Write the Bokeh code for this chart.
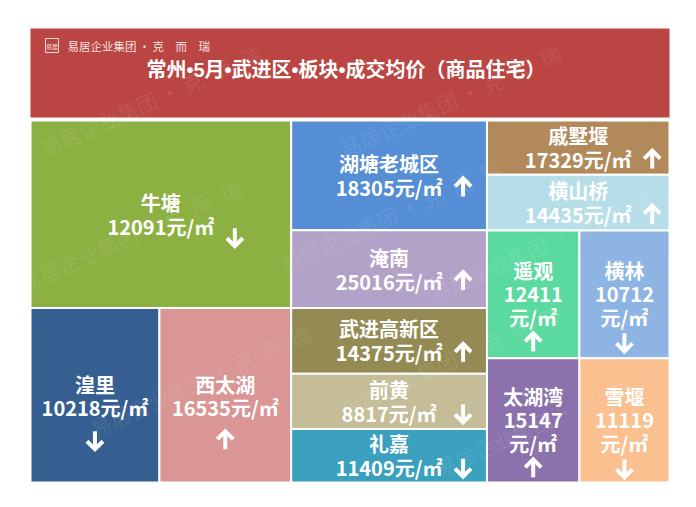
from bokeh.plotting import figure
from bokeh.models import Range1d, ColumnDataSource
from bokeh.core.properties import value
from bokeh.embed import file_html
from bokeh.resources import INLINE

# ---------------- data ----------------
title_text = "常州•5月•武进区•板块•成交均价（商品住宅）"
brand_text = "易居企业集团\u2009·\u2009克\u3000而\u3000瑞"
watermark_text = "易居企业集团\u2009·\u2009克\u2002而\u2002瑞"

names = ["牛塘", "湟里", "西太湖", "湖塘老城区", "淹南", "武进高新区", "前黄",
         "礼嘉", "戚墅堰", "横山桥", "遥观", "横林", "太湖湾", "雪堰"]
prices = [12091, 10218, 16535, 18305, 25016, 14375, 8817,
          11409, 17329, 14435, 12411, 10712, 15147, 11119]
trend = ["down", "down", "up", "up", "up", "up", "down",
         "down", "up", "up", "up", "down", "up", "down"]
weights = [489, 225, 230, 215, 152, 129, 108, 105, 99, 102, 118, 115, 115, 112]
colors = ["#8DB043", "#355E91", "#D99694", "#558ED5", "#B3A2C7", "#948A54", "#C4BD97",
          "#3AA0BE", "#B2895A", "#B7DEE8", "#5BDA9F", "#8EB4E3", "#8C72AC", "#FAC090"]
unit = "元/㎡"

# treemap nesting (h = side by side, v = stacked)
tree = ("h", [("v", [0, ("h", [1, 2])]),
              ("v", [3, 4, 5, 6, 7]),
              ("v", [8, 9, ("h", [10, 11]), ("h", [12, 13])])])

# ---------------- layout ----------------
W, H = 680, 491
p = figure(width=W, height=H, output_backend="svg", toolbar_location=None,
           x_range=Range1d(0, W), y_range=Range1d(H, 0),
           min_border=0, outline_line_color=None, background_fill_color="white",
           border_fill_color="white")
p.axis.visible = False
p.grid.visible = False

HX0, HX1, HY0, HY1 = 30, 669, 28, 117      # header band
TX0, TX1, TY0, TY1 = 30, 669, 120, 482     # treemap area

FONT = value("Noto Sans CJK SC")
TITLE_FONT = value("'Liberation Sans', 'Noto Sans CJK SC'")

def wsum(node):
    if isinstance(node, int):
        return weights[node]
    return sum(wsum(c) for c in node[1])

rects = {}
def layout(node, x0, y0, x1, y1):
    if isinstance(node, int):
        rects[node] = (x0, y0, x1, y1)
        return
    kind, kids = node
    tot = wsum(node)
    pos = x0 if kind == "h" else y0
    for k in kids:
        frac = wsum(k) / tot
        if kind == "h":
            nxt = pos + frac * (x1 - x0)
            layout(k, pos, y0, nxt, y1)
        else:
            nxt = pos + frac * (y1 - y0)
            layout(k, x0, pos, x1, nxt)
        pos = nxt

layout(tree, TX0, TY0, TX1, TY1)

# header
p.quad(left=[HX0], right=[HX1], top=[HY0], bottom=[HY1], fill_color="#BA4542",
       line_color=None)

# tiles
idx = list(range(len(names)))
src = ColumnDataSource(dict(
    left=[rects[i][0] for i in idx], right=[rects[i][2] for i in idx],
    top=[rects[i][1] for i in idx], bottom=[rects[i][3] for i in idx],
    color=colors))
p.quad(left="left", right="right", top="top", bottom="bottom", source=src,
       fill_color="color", line_color="white", line_width=2)

# faint watermark marks (kept inside the chart)
wx = [150, 450, 130, 390, 540, 200, 450, 545]
wy = [100, 100, 235, 215, 245, 380, 360, 420]
p.text(x=wx, y=wy, text=[watermark_text] * len(wx), text_color="white",
       text_alpha=0.09, text_font=FONT, text_font_size="21px", angle=0.42,
       text_align="center", text_baseline="middle")

# title and brand
p.text(x=[(HX0 + HX1) / 2 - 4], y=[69], text=[title_text], text_color="white",
       text_font=TITLE_FONT, text_font_style="bold", text_font_size="20px",
       text_align="center", text_baseline="middle")
p.quad(left=[45], right=[58], top=[38], bottom=[52], fill_color=None,
       line_color="#F3D9D8", line_width=1)
p.text(x=[51.5], y=[45.5], text=["易居"], text_color="#F3D9D8", text_font=FONT,
       text_font_size="6px", text_align="center", text_baseline="middle")
p.text(x=[67], y=[45.5], text=[brand_text], text_color="#F6E3E2", text_font=FONT,
       text_font_size="11.5px", text_align="left", text_baseline="middle")

# labels
tx, ty, tt = [], [], []
ax, ay, adir = [], [], []
for i in idx:
    x0, y0, x1, y1 = rects[i]
    cx, cy = (x0 + x1) / 2, (y0 + y1) / 2
    w = x1 - x0
    h = y1 - y0
    if w < 100:
        tx += [cx, cx, cx]
        ty += [cy - 24, cy, cy + 23]
        tt += [names[i], str(prices[i]), unit]
        ax.append(cx); ay.append(cy + 48)
    elif w < 150:
        tx += [cx, cx]
        ty += [cy - 11, cy + 12]
        tt += [names[i], f"{prices[i]}{unit}"]
        ax.append(cx); ay.append(cy + 45)
    else:
        tx += [cx, cx]
        ty += [cy - 12, cy + 12]
        tt += [names[i], f"{prices[i]}{unit}"]
        ax.append(cx + 74); ay.append(cy + (23 if h > 150 else 12))
    adir.append(trend[i])

p.text(x=tx, y=ty, text=tt, text_color="white", text_font=FONT,
       text_font_style="bold", text_font_size="20px", text_align="center",
       text_baseline="middle")

# arrows (shaft + head)
sx0, sy0, sx1, sy1 = [], [], [], []
hx, hy = [], []
for x, y, d in zip(ax, ay, adir):
    sx0.append(x); sx1.append(x)
    sy0.append(y - 9); sy1.append(y + 9)
    if d == "up":
        hx.append([x - 8, x, x + 8]); hy.append([y - 1, y - 9, y - 1])
    else:
        hx.append([x - 8, x, x + 8]); hy.append([y + 1, y + 9, y + 1])
p.segment(x0=sx0, y0=sy0, x1=sx1, y1=sy1, line_color="white", line_width=4)
p.multi_line(xs=hx, ys=hy, line_color="white", line_width=4,
             line_join="miter", line_cap="butt")

open("out.html", "w").write(file_html(p, INLINE))
